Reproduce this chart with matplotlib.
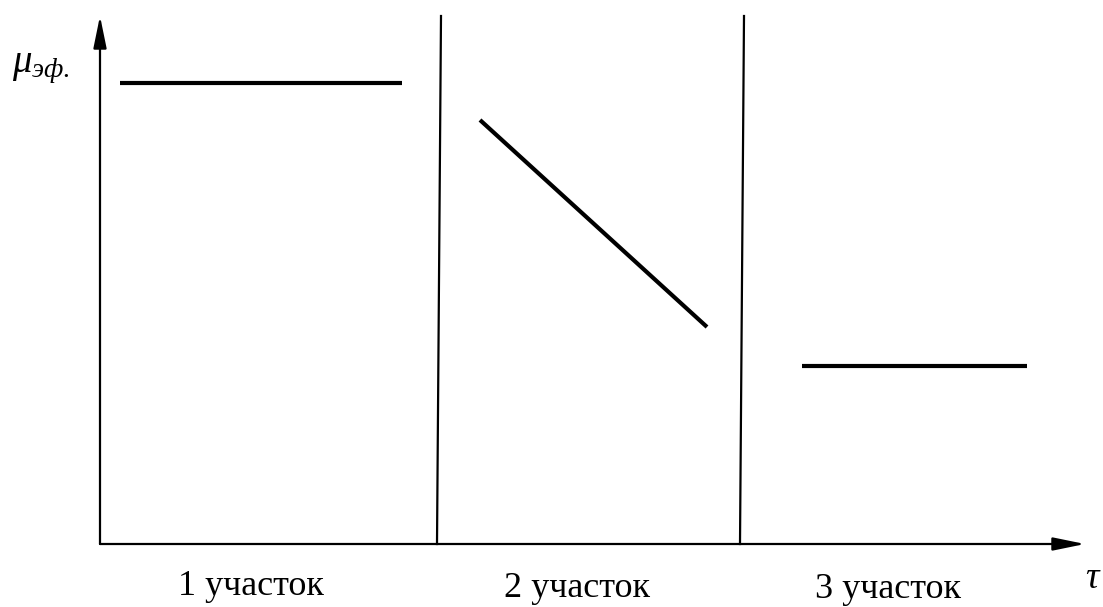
import matplotlib.pyplot as plt

# chart units: origin at the axis crossing
seg1_x = [0.20, 3.02]
seg1_y = [4.61, 4.61]
seg2_x = [3.80, 6.07]
seg2_y = [4.24, 2.17]
seg3_x = [7.02, 9.27]
seg3_y = [1.78, 1.78]

div1_x = [3.37, 3.41]
div2_x = [6.40, 6.44]
div_y = [0.0, 5.28]

axis_end_x = 9.85
axis_end_y = 5.28

zone_labels = ["1 участок", "2 участок", "3 участок"]
zone_label_x = [1.51, 4.77, 7.88]
zone_label_y = [-0.51, -0.53, -0.54]

plt.rcParams["font.family"] = ["Liberation Serif", "DejaVu Serif"]
plt.rcParams["mathtext.fontset"] = "custom"
plt.rcParams["mathtext.rm"] = "Liberation Serif"
plt.rcParams["mathtext.it"] = "Liberation Serif:italic"

fig = plt.figure(figsize=(11.03, 6.07), dpi=100)
ax = fig.add_axes([0, 0, 1, 1])
ax.set_xlim(-1.00, 10.03)
ax.set_ylim(-0.63, 5.44)
ax.axis("off")

# axes with arrows
arrow = dict(arrowstyle="-|>,head_length=1.95,head_width=0.4", color="black",
             lw=1.6, shrinkA=0, shrinkB=0)
ax.annotate("", xy=(axis_end_x, 0), xytext=(0, 0), arrowprops=arrow)
ax.annotate("", xy=(0, axis_end_y), xytext=(0, 0), arrowprops=arrow)

# zone dividers
ax.plot(div1_x, div_y, color="black", lw=1.6)
ax.plot(div2_x, div_y, color="black", lw=1.6)

# friction coefficient per zone
for xs, ys in [(seg1_x, seg1_y), (seg2_x, seg2_y), (seg3_x, seg3_y)]:
    ax.plot(xs, ys, color="black", lw=3.0, solid_capstyle="butt")

for lab, x, y in zip(zone_labels, zone_label_x, zone_label_y):
    ax.text(x, y, lab, fontsize=26, ha="center", va="baseline")

ax.text(-0.88, 4.72, r"$\mu_{эф.}$", fontsize=28, ha="left", va="baseline")
ax.text(9.93, -0.35, r"$\tau$", fontsize=27, ha="center", va="center")

plt.savefig("out.png", dpi=100)
